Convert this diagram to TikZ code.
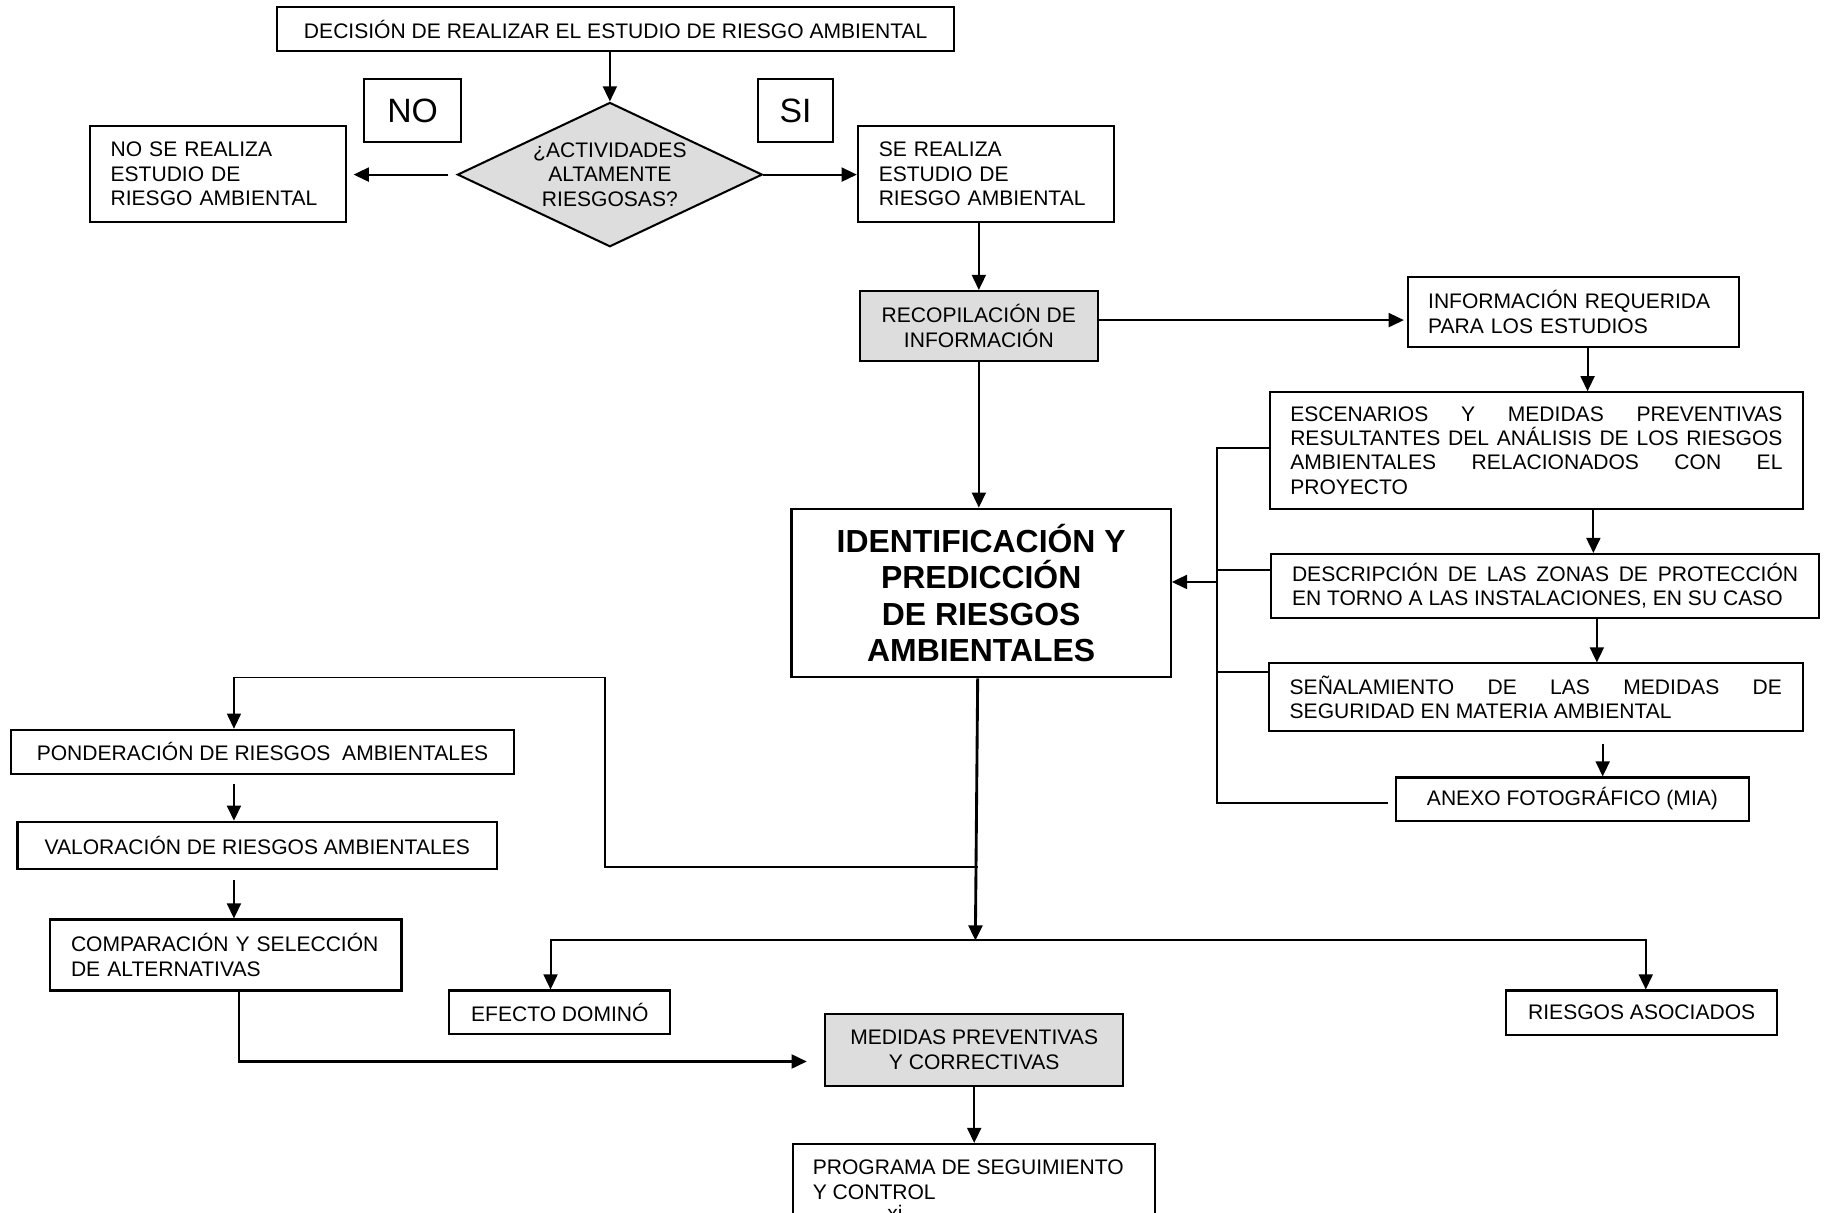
\documentclass[tikz,border=0pt]{standalone}
\usepackage{fontspec}
\setmainfont{Liberation Sans}
\usetikzlibrary{shapes.geometric,arrows.meta,calc}
\definecolor{boxgray}{RGB}{221,221,221}
\newcommand\fsn{\fontsize{10.3}{11.9}\selectfont}
\newcommand\fsbig{\fontsize{16.5}{18}\selectfont}
\newcommand\fsbold{\fontsize{15.6}{17.9}\selectfont\bfseries}
\hyphenpenalty=10000
\exhyphenpenalty=10000
\begin{document}
\begin{tikzpicture}[x=0.02cm,y=-0.02cm,
  box/.style={draw, line width=1pt, inner sep=0pt, font=\fsn, align=center},
  lbox/.style={draw, line width=1pt, inner ysep=0pt, inner xsep=0.36cm, font=\fsn, align=left},
  jbox/.style={draw, line width=1pt, inner ysep=0pt, inner xsep=0.36cm, font=\fsn, align=justify},
  shaded/.style={fill=boxgray},
  con/.style={line width=1pt},
  thincon/.style={line width=0.7pt},
  arr/.style={line width=1pt, -{Triangle[length=0.26cm,width=0.24cm]}}]
\useasboundingbox (0,0) rectangle (1568,1042);

% top
\node[box, minimum width=11.64cm, minimum height=0.76cm] (dec) at (529,25) {DECISIÓN DE REALIZAR EL ESTUDIO DE RIESGO AMBIENTAL};
\node[box, minimum width=1.66cm, minimum height=1.08cm, font=\fsbig] (no) at (354.5,95) {NO};
\node[box, minimum width=1.30cm, minimum height=1.08cm, font=\fsbig] (si) at (683.5,95) {SI};
\node[diamond, draw, line width=1pt, shaded, shape aspect=2.11, inner sep=0pt,
      minimum width=5.24cm, minimum height=2.48cm, font=\fsn, align=center] (dia) at (524,150)
      {¿ACTIVIDADES\\ALTAMENTE\\RIESGOSAS?};
\node[lbox, text width=3.68cm, minimum height=1.66cm] (nobox) at (187,149.5) {NO SE REALIZA\\ESTUDIO DE\\RIESGO AMBIENTAL};
\node[lbox, text width=3.68cm, minimum height=1.66cm] (sibox) at (847,149.5) {SE REALIZA\\ESTUDIO DE\\RIESGO AMBIENTAL};
\node[box, shaded, minimum width=4.08cm, minimum height=1.20cm] (recop) at (841,280) {RECOPILACIÓN DE\\INFORMACIÓN};

% right column
\node[lbox, inner xsep=0.34cm, text width=5.00cm, minimum height=1.20cm] (info) at (1352,268) {INFORMACIÓN REQUERIDA\\PARA LOS ESTUDIOS};
\node[jbox, inner xsep=0.35cm, text width=8.46cm, minimum height=2.00cm] (esc) at (1320,387)
  {ESCENARIOS Y MEDIDAS PREVENTIVAS\linebreak RESULTANTES DEL ANÁLISIS DE LOS RIESGOS\linebreak AMBIENTALES RELACIONADOS CON EL\linebreak PROYECTO};
\node[jbox, text width=8.70cm, minimum height=1.10cm] (desc) at (1327.5,503.5)
  {DESCRIPCIÓN DE LAS ZONAS DE PROTECCIÓN\linebreak EN TORNO A LAS INSTALACIONES, EN SU CASO};
\node[jbox, text width=8.46cm, minimum height=1.16cm] (senal) at (1319.5,599)
  {SEÑALAMIENTO DE LAS MEDIDAS DE\linebreak SEGURIDAD EN MATERIA AMBIENTAL};
\node[box, minimum width=6.08cm, minimum height=0.74cm] (anexo) at (1351,686.5) {ANEXO FOTOGRÁFICO (MIA)};

% centre
\node[box, minimum width=6.52cm, minimum height=2.90cm, font=\fsbold] (ident) at (843,509.5)
  {IDENTIFICACIÓN Y\\PREDICCIÓN\\DE RIESGOS\\AMBIENTALES};

% left column
\node[box, minimum width=8.66cm, minimum height=0.76cm] (pond) at (225.5,646) {PONDERACIÓN DE RIESGOS~\ AMBIENTALES};
\node[box, minimum width=8.24cm, minimum height=0.82cm] (valor) at (221,726.5) {VALORACIÓN DE RIESGOS AMBIENTALES};
\node[lbox, text width=5.32cm, minimum height=1.22cm] (comp) at (194,820.5) {COMPARACIÓN Y SELECCIÓN\\DE ALTERNATIVAS};

% bottom
\node[box, minimum width=3.80cm, minimum height=0.74cm] (efecto) at (481,869.5) {EFECTO DOMINÓ};
\node[box, minimum width=4.66cm, minimum height=0.76cm] (riesgos) at (1410.5,870) {RIESGOS ASOCIADOS};
\node[box, shaded, minimum width=5.12cm, minimum height=1.24cm] (medidas) at (837,902) {MEDIDAS PREVENTIVAS\\Y CORRECTIVAS};
\node[draw, line width=1pt, minimum width=6.22cm, minimum height=1.8cm, anchor=north] (prog) at (836.5,982) {};
\node[font=\fsn, align=left, anchor=north west, inner sep=0pt] (progt) at (698,996.5) {PROGRAMA DE SEGUIMIENTO\\Y CONTROL};
\node[font=\fsn, anchor=base, inner sep=0pt] (pg) at (769,1048.5) {xi};

% coordinates
\coordinate (bus) at (1046,500);
\coordinate (j1) at (838,808);
\coordinate (j2) at (840,745);
\coordinate (k1) at (520,582);

% connectors top
\draw[arr] (dec.south -| dia.north) -- (dia.north);
\draw[arr, shorten <=0.14cm, shorten >=0.12cm] (dia.west) -- (nobox.east |- dia.west);
\draw[arr] (dia.east) -- (sibox.west |- dia.east);
\draw[arr] (sibox.south -| recop.north) -- (recop.north);
\draw[arr, shorten >=0.06cm] ([yshift=0.1cm]recop.east) -- ([yshift=0.1cm]recop.east -| info.west);
\draw[arr] (recop.south) -- (recop.south |- ident.north);

% right chain
\draw[arr] ([xshift=0.24cm]info.south) -- ([xshift=0.24cm]info.south |- esc.north);
\draw[arr] ([xshift=0.98cm]esc.south) -- ([xshift=0.98cm]esc.south |- desc.north);
\draw[arr] ([xshift=0.89cm]desc.south) -- ([xshift=0.89cm]desc.south |- senal.north);
\draw[arr, shorten <=0.2cm] ([xshift=1.15cm]senal.south) -- ([xshift=1.15cm]senal.south |- anexo.north);

% bracket
\draw[con] ([yshift=0.04cm]esc.west) -- ([yshift=0.04cm]esc.west -| bus) -- (bus |- 0,690) -- ([xshift=-0.12cm]anexo.west |- 0,690);
\draw[con] (desc.west |- 0,490) -- (bus |- 0,490);
\draw[con] (senal.west |- 0,577) -- (bus |- 0,577);
\draw[arr] (bus) -- (ident.east |- bus);

% centre down
\draw[arr, line width=1.4pt] ([xshift=-0.06cm]ident.south) -- (j1);
\draw[arr] (j1) -| ([xshift=-0.16cm]efecto.north);
\draw[arr] (j1) -| ([xshift=0.07cm]riesgos.north);

% left branch
\draw[arr, line width=0.8pt] (j2) -| (k1) -| ([xshift=-0.49cm]pond.north);
\draw[arr, shorten <=0.16cm] ([xshift=-0.49cm]pond.south) -- ([xshift=-0.49cm]pond.south |- valor.north);
\draw[arr, shorten <=0.16cm] ([xshift=-0.4cm]valor.south) -- ([xshift=-0.4cm]valor.south |- comp.north);
\draw[arr, shorten >=0.3cm] ([xshift=0.22cm]comp.south) |- ([yshift=-0.2cm]medidas.west);

% bottom
\draw[arr] (medidas.south) -- (medidas.south |- prog.north);
\end{tikzpicture}
\end{document}
